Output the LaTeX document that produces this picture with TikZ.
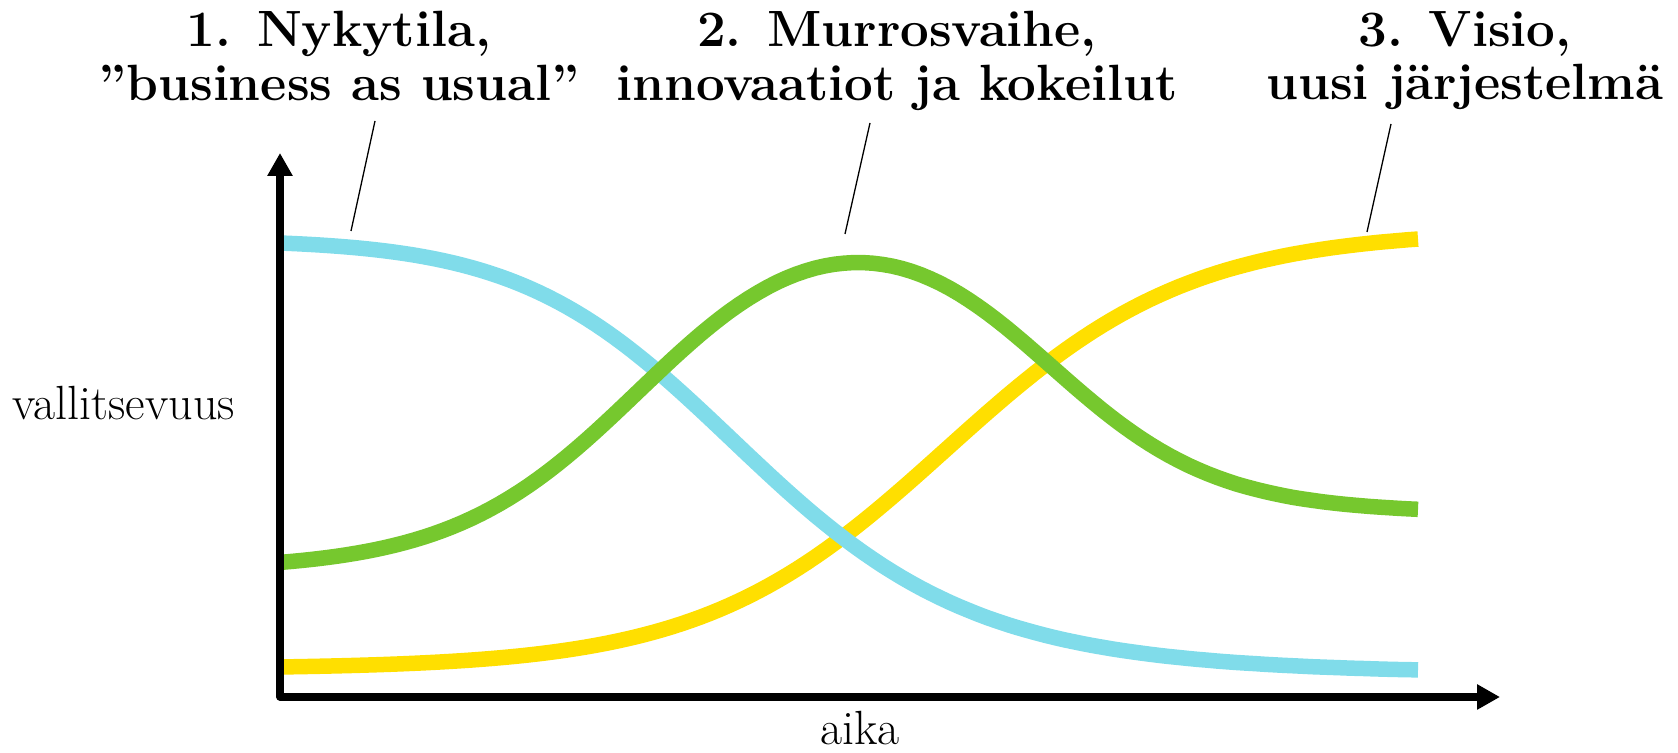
\documentclass[tikz,border=0pt]{standalone}
\usepackage{xcolor}
\usepackage{tikz}
\usetikzlibrary{arrows.meta,positioning,calc}

\definecolor{nykycyan}{RGB}{128,220,234}
\definecolor{murrosgreen}{RGB}{118,200,46}
\definecolor{visioyellow}{RGB}{255,223,0}

\begin{document}
\begin{tikzpicture}[x=0.5pt,y=0.5pt,
    declare function={sig(\t)=1/(1+exp(-\t));},
    curve/.style={line width=7.75pt,line cap=butt},
    leader/.style={line width=0.65pt},
    phase/.style={font=\fontsize{25.5}{26.75}\selectfont\bfseries,align=center,anchor=north,inner sep=0pt},
    axislabel/.style={font=\fontsize{24}{26}\selectfont,anchor=base,inner sep=0pt}]
                \useasboundingbox (0,0) rectangle (1678,753);
                % kolme vaihetta
                \draw[visioyellow,curve]
                plot[domain=280:1418,samples=120] (\x,{86+428*(sig((\x-946)/122)-0.0042)/0.9754});
                \draw[nykycyan,curve]
                plot[domain=280:1418,samples=120] (\x,{510-427*(sig((\x-750)/(115+0.04*(\x-750)))-0.0075)/0.9836});
                \draw[murrosgreen,curve]
                plot[domain=280:1418,samples=120] (\x,{182.7+376.4*sig((\x-645)/95)-319*sig((\x-1043)/85)});
                % akselit
                \draw[line width=3.65pt,line join=round,{Triangle[length=11.5pt,width=12pt]}-{Triangle[length=11.5pt,width=12pt]}]
                (280,600) -- (280,56) -- (1500,56);
                \node[axislabel] (yl) at (124,333) {vallitsevuus};
                \node[axislabel] (xl) at (860,8) {aika};
                % otsikot
                \node[phase] (nyky) at (339,742) {1. Nykytila,\\”business as usual”};
                \node[phase] (murros) at (897,742) {2. Murrosvaihe,\\innovaatiot ja kokeilut};
                \node[phase] (visio) at (1465,742) {3. Visio,\\uusi järjestelmä};
                \coordinate (nykyA) at (375,632);
                \coordinate (nykyB) at (351,522);
                \coordinate (murrosA) at (870,630);
                \coordinate (murrosB) at (845,519);
                \coordinate (visioA) at (1391,629);
                \coordinate (visioB) at (1367,521);
                \draw[leader] (nykyA) -- (nykyB);
                \draw[leader] (murrosA) -- (murrosB);
                \draw[leader] (visioA) -- (visioB);
            \end{tikzpicture}
\end{document}
